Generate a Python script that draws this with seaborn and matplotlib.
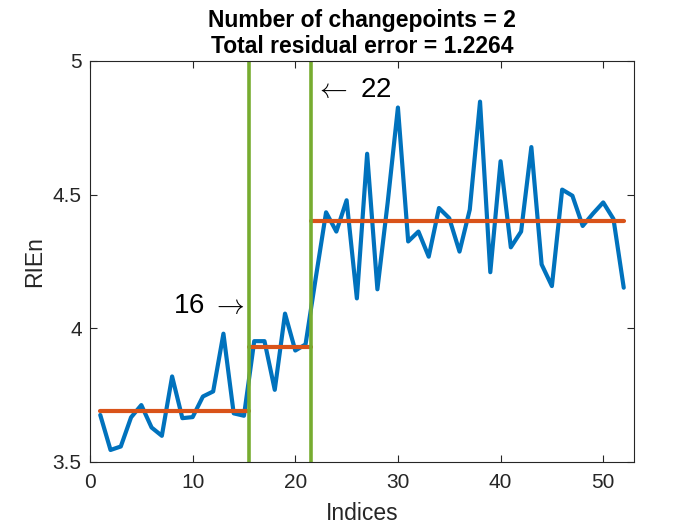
import numpy as np
import pandas as pd
import seaborn as sns
import matplotlib
matplotlib.use('Agg')
import matplotlib.pyplot as plt

# Values
indices = list(range(1, 53))
rien = [3.676, 3.545, 3.558, 3.667, 3.713, 3.629, 3.598, 3.820, 3.664, 3.668,
        3.745, 3.764, 3.980, 3.682, 3.673, 3.952, 3.952, 3.770, 4.055, 3.917,
        3.940, 4.190, 4.434, 4.362, 4.479, 4.112, 4.653, 4.146, 4.470, 4.826,
        4.325, 4.362, 4.268, 4.450, 4.412, 4.287, 4.444, 4.848, 4.210, 4.625,
        4.303, 4.362, 4.678, 4.239, 4.158, 4.519, 4.496, 4.383, 4.429, 4.471,
        4.409, 4.152]
changepoints = [16, 22]
residual_error = 1.2264

df = pd.DataFrame({'Indices': indices, 'RIEn': rien})

sns.set_theme(style='ticks')
plt.rcParams['font.family'] = ['Liberation Sans', 'DejaVu Sans']
plt.rcParams['mathtext.fontset'] = 'cm'

blue = '#0072BD'
orange = '#D95319'
green = '#77AC30'
dark = '#262626'

fig = plt.figure(figsize=(7, 5.25), dpi=100)
fig.patch.set_facecolor('white')
ax = fig.add_axes([90 / 700, 63 / 525, 544 / 700, 401 / 525])

sns.lineplot(data=df, x='Indices', y='RIEn', color=blue, linewidth=3, ax=ax)

# segment means
bounds = [1] + changepoints + [indices[-1] + 1]
for k in range(len(bounds) - 1):
    seg = df[(df['Indices'] >= bounds[k]) & (df['Indices'] < bounds[k + 1])]
    x0 = seg['Indices'].iloc[0] if k == 0 else bounds[k] - 0.5
    x1 = seg['Indices'].iloc[-1] if k == len(bounds) - 2 else bounds[k + 1] - 0.5
    ax.plot([x0, x1], [seg['RIEn'].mean()] * 2, color=orange, linewidth=3)

for cp in changepoints:
    ax.axvline(cp - 0.5, color=green, linewidth=2.6)

ax.text(changepoints[0] - 0.9, 4.085, r'16 $\rightarrow$', ha='right', va='center',
        fontsize=20, color='black')
ax.text(changepoints[1] - 0.5 + 0.45, 4.89, r'$\leftarrow$ 22', ha='left', va='center',
        fontsize=20, color='black')

ax.set_xlim(0, 53)
ax.set_ylim(3.5, 5)
ax.set_xticks([0, 10, 20, 30, 40, 50])
ax.set_yticks([3.5, 4, 4.5, 5])
ax.set_yticklabels(['3.5', '4', '4.5', '5'])
ax.tick_params(direction='in', top=True, right=True, length=5, width=0.8,
               labelsize=15, colors=dark, pad=6)
ax.tick_params(axis='x', pad=8)
for s in ax.spines.values():
    s.set_visible(True)
    s.set_color(dark)
    s.set_linewidth(0.8)

ax.set_xlabel('Indices', fontsize=16.5, color=dark, labelpad=7)
ax.set_ylabel('RIEn', fontsize=16.5, color=dark, labelpad=5)
ax.set_title('Number of changepoints = %d\nTotal residual error = %.4f'
             % (len(changepoints), residual_error),
             fontsize=16.5, fontweight='bold', color='black', pad=6, linespacing=1.15)

fig.savefig('out.png', dpi=100, facecolor='white')
